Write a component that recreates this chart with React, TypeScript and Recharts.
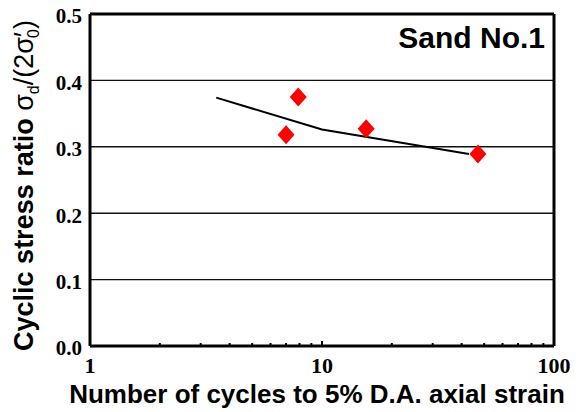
import React from 'react';
import { ScatterChart, Scatter, XAxis, YAxis, CartesianGrid, ReferenceLine } from 'recharts';

// Measured liquefaction tests: cycles to 5% D.A. axial strain vs. cyclic stress ratio
const testCycles = [7, 7.9, 15.5, 47];
const testRatios = [0.318, 0.375, 0.327, 0.289];

// Fitted liquefaction-resistance curve
const curveCycles = [3.5, 10, 43];
const curveRatios = [0.374, 0.326, 0.289];

// Axis ticks
const xTicks = [1, 2, 3, 4, 5, 6, 7, 8, 9, 10, 20, 30, 40, 50, 60, 70, 80, 90, 100];
const xLabelled = [1, 10, 100];
const yTicks = [0, 0.1, 0.2, 0.3, 0.4, 0.5];

const testPoints = testCycles.map((n, i) => ({ n, r: testRatios[i] }));
const curvePoints = curveCycles.map((n, i) => ({ n, r: curveRatios[i] }));

const SANS = '"Liberation Sans", Arial, sans-serif';
const SERIF = '"Liberation Serif", "Times New Roman", serif';

const Diamond = (props: any) => {
  const { cx, cy } = props;
  const hw = 8.5;
  const hh = 9.5;
  return (
    <polygon
      points={`${cx},${cy - hh} ${cx + hw},${cy} ${cx},${cy + hh} ${cx - hw},${cy}`}
      fill="#ff0000"
    />
  );
};

const NoShape = () => <g />;

const XTick = (props: any) => {
  const { x, y, payload } = props;
  const v = payload.value;
  const labelled = xLabelled.includes(v);
  return (
    <g>
      <line x1={x} x2={x} y1={y} y2={y - (v === 10 ? 5 : 3)} stroke="#000" strokeWidth={2} />
      {labelled && (
        <text x={x} y={y + 27} textAnchor="middle" fontFamily={SERIF} fontWeight="bold" fontSize={22} fill="#000">
          {v}
        </text>
      )}
    </g>
  );
};

const YTitle = () => (
  <text transform="translate(33,185.5) rotate(-90)" textAnchor="middle" fontFamily={SANS} fontSize={27} fill="#000">
    <tspan fontWeight="bold">Cyclic stress ratio </tspan>
    <tspan>σ</tspan>
    <tspan dy={6} fontSize={16}>d</tspan>
    <tspan dy={-6}>/(2σ′</tspan>
    <tspan dy={6} dx={-6} fontSize={16}>0</tspan>
    <tspan dy={-6}>)</tspan>
  </text>
);

const XTitle = (props: any) => {
  const { viewBox } = props;
  const cx = viewBox.x + viewBox.width / 2 - 5;
  return (
    <text x={cx} y={403} textAnchor="middle" fontFamily={SANS} fontWeight="bold" fontSize={26} fill="#000">
      Number of cycles to 5% D.A. axial strain
    </text>
  );
};

const SandLabel = (props: any) => {
  const { viewBox } = props;
  return (
    <text
      x={viewBox.x + viewBox.width - 9}
      y={viewBox.y + 34}
      textAnchor="end"
      fontFamily={SANS}
      fontWeight="bold"
      fontSize={30}
      fill="#000"
    >
      Sand No.1
    </text>
  );
};

export default function App() {
  return (
    <div style={{ position: 'absolute', left: 0, top: 0, background: '#fff' }}>
      <ScatterChart width={580} height={412} margin={{ top: 14, right: 26, left: 0, bottom: 0 }}>
        <CartesianGrid horizontal vertical={false} stroke="#111" strokeWidth={1.4} />
        <XAxis
          type="number"
          dataKey="n"
          scale="log"
          domain={[1, 100]}
          ticks={xTicks}
          interval={0}
          allowDataOverflow
          height={66}
          tickSize={0}
          tickMargin={0}
          tickLine={false}
          tick={<XTick />}
          axisLine={{ stroke: '#000', strokeWidth: 3 }}
          label={<XTitle />}
        />
        <YAxis
          type="number"
          dataKey="r"
          domain={[0, 0.5]}
          ticks={yTicks}
          interval={0}
          width={90}
          tickSize={0}
          tickMargin={8}
          tickLine={false}
          tickFormatter={(v: number) => v.toFixed(1)}
          tick={{ fontFamily: SERIF, fontWeight: 'bold', fontSize: 21, fill: '#000', dy: 2 }}
          axisLine={{ stroke: '#000', strokeWidth: 3 }}
          label={<YTitle />}
        />
        <ReferenceLine x={100} stroke="#000" strokeWidth={3} />
        <ReferenceLine y={0.5} stroke="#000" strokeWidth={3} label={<SandLabel />} />
        <Scatter
          data={curvePoints}
          line={{ stroke: '#000', strokeWidth: 2 }}
          lineType="joint"
          shape={<NoShape />}
          isAnimationActive={false}
        />
        <Scatter data={testPoints} shape={<Diamond />} isAnimationActive={false} />
      </ScatterChart>
    </div>
  );
}
